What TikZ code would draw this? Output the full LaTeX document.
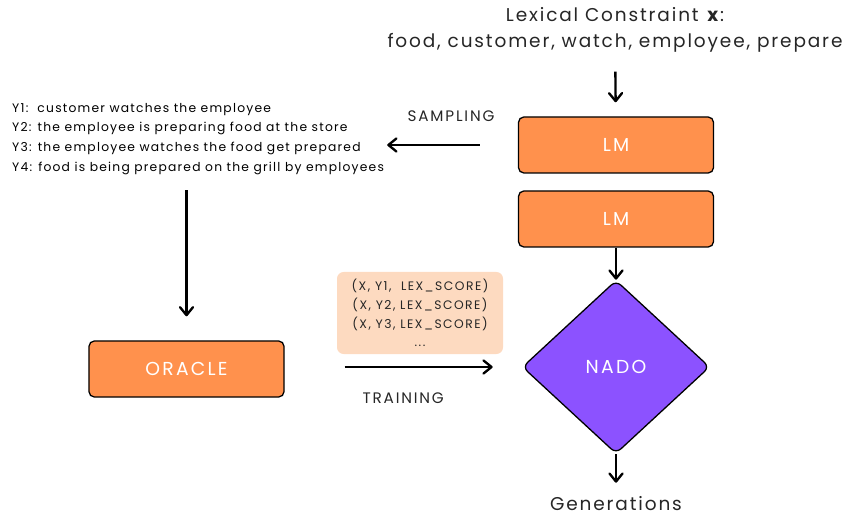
\documentclass[tikz,border=0pt]{standalone}
\usepackage{fontspec}
\setmainfont{Poppins}
\newfontfamily\nadoText{Poppins}[LetterSpace=10]
\newfontfamily\nadoCaps{Poppins}[LetterSpace=12]
\usetikzlibrary{arrows.meta,shapes.geometric}
\definecolor{nadoOrange}{HTML}{FF914D}
\definecolor{nadoPurple}{HTML}{8C52FF}
\definecolor{nadoPeach}{HTML}{FDDAC0}
\tikzset{
    nado/model/.style={
        rectangle, rounded corners=1.6mm,
        draw=black, fill=nadoOrange, text=white,
        line width=1.1pt, align=center,
        font=\nadoCaps\fontsize{16}{18}\selectfont,
        minimum width=5.85cm, minimum height=1.68cm
    },
    nado/decision/.style={
        diamond, aspect=1.08, rounded corners=2mm,
        draw=black, fill=nadoPurple, text=white,
        line width=1.1pt, inner sep=0pt,
        font=\nadoCaps\fontsize{16}{18}\selectfont,
        minimum width=5.62cm, minimum height=5.2cm
    },
    nado/heading/.style={
        align=center, text=black!85,
        font=\nadoText\fontsize{15.8}{22}\selectfont
    },
    nado/samples/.style={
        align=left, text=black, inner sep=0pt,
        font=\nadoText\fontsize{10.5}{17}\selectfont
    },
    nado/triples/.style={
        rectangle, rounded corners=2mm, fill=nadoPeach,
        align=center, text=black!85, inner sep=0pt,
        font=\nadoCaps\fontsize{10.5}{16}\selectfont,
        minimum width=4.98cm, minimum height=2.46cm
    },
    nado/edge label/.style={
        font=\nadoCaps\fontsize{13}{15}\selectfont, text=black!85
    },
    nado/arrow/.style={
        draw=black, line width=2pt,
        -{Straight Barb[length=2.4mm,width=3.9mm,round]}
    }
}

\begin{document}
\begin{tikzpicture}[x=0.03cm, y=-0.03cm]
    \useasboundingbox (0,0) rectangle (846,517);

    \node[nado/heading] (constraint) at (615,30)
        {Lexical Constraint \textbf{x}:\\
         food, customer, watch, employee, prepare};
    \node[nado/model] (lmtop) at (616,145) {LM};
    \node[nado/model] (lmbot) at (616,219) {LM};
    \node[nado/decision] (nado) at (616,367) {NADO};
    \node[nado/heading] (generations) at (616,504) {Generations};

    \node[nado/samples, anchor=west] (samples) at (12,139)
        {Y1:\ \ customer watches the employee\\
         Y2: the employee is preparing food at the store\\
         Y3: the employee watches the food get prepared\\
         Y4: food is being prepared on the grill by employees};
    \node[nado/model] (oracle) at (186.5,369) {ORACLE};
    \node[nado/triples] (triples) at (420,313)
        {(X, Y1,\ \ LEX\_SCORE)\\
         (X, Y2, LEX\_SCORE)\\
         (X, Y3, LEX\_SCORE)\\
         ...};

    \draw[nado/arrow, shorten <=13pt, shorten >=12pt] (constraint) -- (lmtop);
    \draw[nado/arrow, shorten <=1.14cm, shorten >=0.09cm] (lmtop.west) --
        node[nado/edge label, above=0.55cm] {SAMPLING} (samples.east |- lmtop.west);
    \draw[nado/arrow] (lmbot) -- (nado.north);
    \draw[nado/arrow, shorten >=0.3cm] (nado.south) -- (generations);
    \draw[nado/arrow, shorten <=0.45cm, shorten >=0.72cm] (samples.south -| oracle) -- (oracle.north);
    \draw[nado/arrow, shorten <=1.8cm, shorten >=0.87cm] (oracle.east |- nado.west) --
        node[nado/edge label, below=0.63cm] {TRAINING} (nado.west);
\end{tikzpicture}
\end{document}
